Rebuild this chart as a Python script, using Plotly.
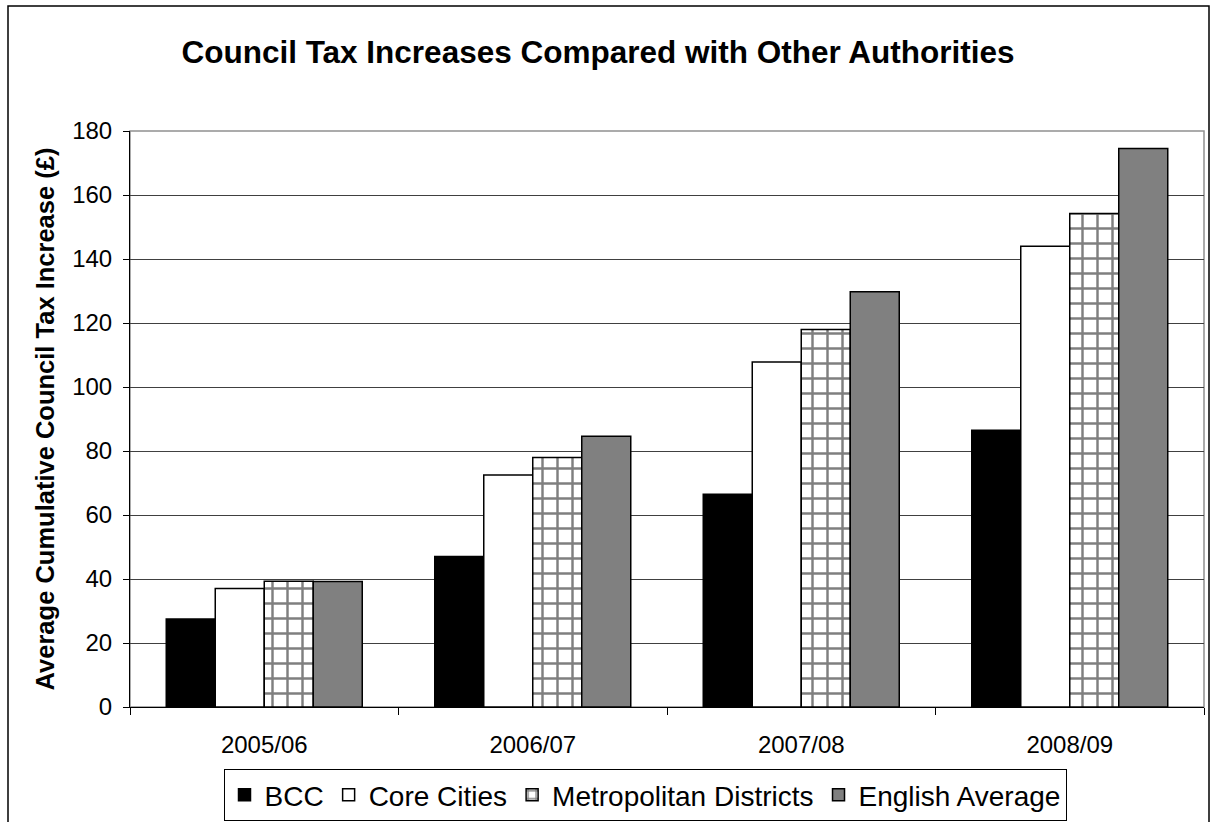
import plotly.graph_objects as go

years = ["2005/06", "2006/07", "2007/08", "2008/09"]
bcc = [27.5, 47.0, 66.5, 86.5]
core_cities = [37.0, 72.5, 107.8, 144.0]
metro_districts = [39.3, 78.0, 118.0, 154.2]
english_avg = [39.2, 84.6, 129.8, 174.5]
y_ticks = [0, 20, 40, 60, 80, 100, 120, 140, 160, 180]

FONT = "Liberation Sans, Arial, sans-serif"

fig = go.Figure()
line = dict(color="black", width=1.5)
fig.add_trace(go.Bar(name="BCC", x=years, y=bcc, marker=dict(color="black", line=line)))
fig.add_trace(go.Bar(name="Core Cities", x=years, y=core_cities, marker=dict(color="white", line=line)))
fig.add_trace(go.Bar(name="Metropolitan Districts", x=years, y=metro_districts,
                     marker=dict(color="white", line=line,
                                 pattern=dict(shape="+", fgcolor="black", bgcolor="white",
                                              size=15, solidity=0.3, fillmode="overlay"))))
fig.add_trace(go.Bar(name="English Average", x=years, y=english_avg, marker=dict(color="#808080", line=line)))

L, R, T, B = 130, 1204, 131, 707
W, H = R - L, B - T

def px(x):
    return (x - L) / W

def py(y):
    return (B - y) / H

fig.update_layout(
    width=1211, height=822,
    margin=dict(l=L, r=1211 - R, t=T, b=822 - B),
    paper_bgcolor="white", plot_bgcolor="white",
    font=dict(family=FONT, size=24, color="black"),
    barmode="group", bargap=0.27, bargroupgap=0,
    showlegend=True,
    title=dict(text="<b>Council Tax Increases Compared with Other Authorities</b>",
               x=px(598), xref="paper", xanchor="center", y=1 - 52 / 822, yanchor="middle",
               font=dict(size=31.5, family=FONT, color="black")),
    legend=dict(orientation="h", x=645 / 1211, xref="container", xanchor="center",
                y=1 - 795 / 822, yref="container", yanchor="middle",
                bordercolor="black", borderwidth=1, bgcolor="white",
                font=dict(size=28, family=FONT), itemwidth=30, traceorder="normal"),
    yaxis=dict(range=[0, 180], tickvals=y_ticks, showgrid=True, gridcolor="#404040", gridwidth=1,
               showline=True, linecolor="black", linewidth=1, ticks="outside", ticklen=6,
               tickcolor="black", zeroline=False, ticklabelstandoff=6,
               tickfont=dict(size=24), automargin=False,
               title=dict(text="<b>Average Cumulative Council Tax Increase (£)</b>",
                          font=dict(size=25.5, family=FONT), standoff=10)),
    xaxis=dict(showline=True, linecolor="black", linewidth=1, ticks="outside", ticklen=7,
               tickson="boundaries", tickcolor="black", showgrid=False, automargin=False,
               tickfont=dict(size=24), ticklabelstandoff=16),
    shapes=[
        dict(type="rect", xref="paper", yref="paper", x0=0, x1=1, y0=0, y1=1,
             line=dict(color="#909090", width=1.5), layer="below"),
        dict(type="rect", xref="paper", yref="paper", x0=px(8), x1=px(1209), y0=py(6), y1=py(840),
             line=dict(color="black", width=1.5), layer="below"),
    ],
)

fig.write_html("out.html")
